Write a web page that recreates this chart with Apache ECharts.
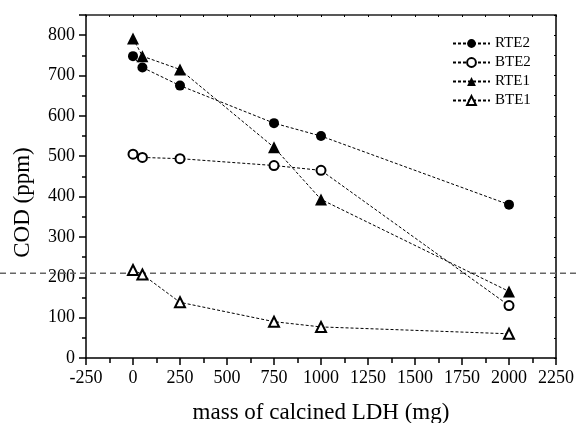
<!DOCTYPE html>
<html>
<head>
<meta charset="utf-8">
<script src="https://cdn.jsdelivr.net/npm/echarts@6/dist/echarts.min.js"></script>
<style>
  html, body { margin: 0; padding: 0; background: #fff; }
  #chart { width: 576px; height: 423px; }
</style>
</head>
<body>
<div id="chart"></div>
<script>
// mass of calcined LDH (mg)
const mass = [0, 50, 250, 750, 1000, 2000];
const rte2 = [748, 720, 675, 582, 550, 380];
const bte2 = [505, 497, 494, 477, 465, 130];
const rte1 = [792, 748, 715, 522, 393, 165];
const bte1 = [218, 207, 138, 90, 77, 60];
const limitLine = 210;

const font = 'Liberation Serif, Times New Roman, serif';

function pairs(ys) {
  return mass.map((x, i) => [x, ys[i]]);
}

function lineSeries(name, ys, symbol, size) {
  return {
    name: name,
    type: 'line',
    data: pairs(ys),
    symbol: symbol,
    symbolSize: size,
    showAllSymbol: true,
    lineStyle: { color: '#000', width: 1, type: [3, 2] },
    itemStyle: { color: '#000', borderWidth: 1 },
    z: 3
  };
}

const chart = echarts.init(document.getElementById('chart'));
const option = {
  animation: false,
  textStyle: { fontFamily: font },
  legend: {
    orient: 'vertical',
    left: 447,
    top: 31,
    itemWidth: 37,
    itemHeight: 11,
    itemGap: 4,
    textStyle: { fontFamily: font, fontSize: 15, color: '#000' },
    data: ['RTE2', 'BTE2', 'RTE1', 'BTE1']
  },
  grid: [
    { left: 86, right: 20, top: 15, bottom: 65, outerBoundsMode: 'none' },
    { left: 0, right: 0, top: 15, bottom: 65, outerBoundsMode: 'none' }   // wide grid for the reference line
  ],
  xAxis: [
    {
      type: 'value',
      min: -250, max: 2250, interval: 250,
      name: 'mass of calcined LDH (mg)',
      nameLocation: 'middle',
      nameGap: 43,
      nameTextStyle: { fontSize: 23, color: '#000', fontFamily: font },
      axisLine: { onZero: false, lineStyle: { color: '#000', width: 1.5 } },
      axisTick: { length: 7, lineStyle: { color: '#000', width: 1.5 } },
      minorTick: { show: true, splitNumber: 2, length: 5, lineStyle: { color: '#000', width: 1.5 } },
      axisLabel: { fontSize: 18, color: '#000', margin: 11, fontFamily: font, formatter: v => String(v) },
      splitLine: { show: false }
    },
    {
      type: 'value', position: 'top',
      min: -250, max: 2250, interval: 125,
      axisLine: { onZero: false, lineStyle: { color: '#222', width: 1.5 } },
      axisTick: { inside: true, length: 2, lineStyle: { color: '#000' } },
      axisLabel: { show: false },
      splitLine: { show: false }
    },
    {
      gridIndex: 1, type: 'value', min: 0, max: 1, show: false
    }
  ],
  yAxis: [
    {
      type: 'value',
      min: 0, max: 850, interval: 100,
      name: 'COD (ppm)',
      nameLocation: 'middle',
      nameGap: 52,
      nameTextStyle: { fontSize: 23, color: '#000', fontFamily: font, padding: [0, 32, 0, 0] },
      axisLine: { onZero: false, lineStyle: { color: '#000', width: 1.5 } },
      axisTick: { length: 7, lineStyle: { color: '#000', width: 1.5 } },
      minorTick: { show: true, splitNumber: 2, length: 4, lineStyle: { color: '#000', width: 1.5 } },
      axisLabel: { fontSize: 18, color: '#000', margin: 11, fontFamily: font, showMaxLabel: false },
      splitLine: { show: false }
    },
    {
      type: 'value', position: 'right',
      min: 0, max: 850, interval: 50,
      axisLine: { onZero: false, lineStyle: { color: '#000', width: 1.5 } },
      axisTick: { inside: true, length: 2, lineStyle: { color: '#000' } },
      axisLabel: { show: false },
      splitLine: { show: false }
    },
    {
      gridIndex: 1, type: 'value', min: 0, max: 850, show: false
    }
  ],
  series: [
    lineSeries('RTE2', rte2, 'circle', 10),
    lineSeries('BTE2', bte2, 'emptyCircle', 9),
    lineSeries('RTE1', rte1, 'triangle', 12),
    lineSeries('BTE1', bte1, 'emptyTriangle', 10),
    {
      type: 'line',
      xAxisIndex: 2, yAxisIndex: 2,
      data: [[0, limitLine], [1, limitLine]],
      symbol: 'none',
      silent: true,
      lineStyle: { color: '#666', width: 1.5, type: [6, 4] },
      z: 1
    }
  ]
};
chart.setOption(option);
</script>
</body>
</html>
